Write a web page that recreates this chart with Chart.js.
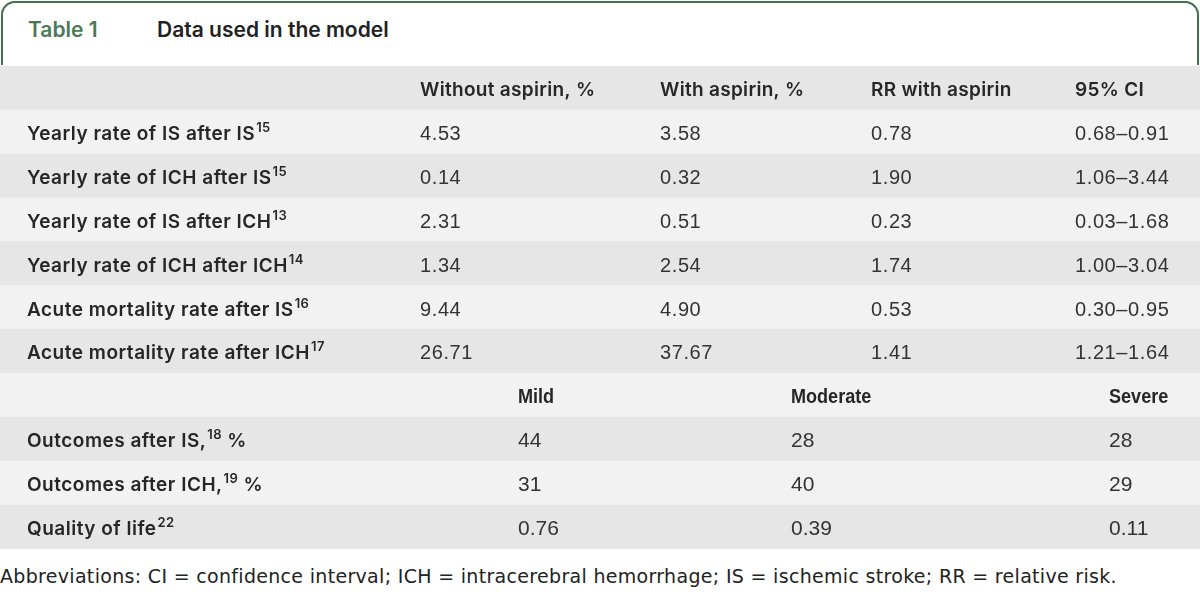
<!DOCTYPE html>
<html>
<head>
<meta charset="utf-8">
<script src="https://cdn.jsdelivr.net/npm/chart.js@4.4.1/dist/chart.umd.min.js"></script>
<style>
  html, body { margin: 0; padding: 0; background: #fff; }
  body { width: 1200px; height: 592px; position: relative; overflow: hidden; }
  .caption {
    position: absolute; left: 1px; top: 1px; width: 1198px; height: 64px;
    border: 2px solid #426f4c; border-bottom: none; border-radius: 14px 14px 0 0;
    box-sizing: border-box;
  }
  .caption span { position: absolute; top: 16px; font: 600 21px/21px Inter, sans-serif; white-space: nowrap; }
  .caption .num { left: 25px; color: #4a7a57; }
  .caption .ttl { left: 154px; color: #222; }
  #wrap { position: absolute; left: 0; top: 66px; width: 1200px; height: 483px; }
  .note { position: absolute; left: 0; top: 567px; font: 19px/19px "DejaVu Sans", sans-serif; color: #222; white-space: nowrap; }
</style>
</head>
<body>
<div class="caption"><span class="num">Table 1</span><span class="ttl">Data used in the model</span></div>
<div id="wrap"><canvas id="table"></canvas></div>
<div class="note" id="note">Abbreviations: CI = confidence interval; ICH = intracerebral hemorrhage; IS = ischemic stroke; RR = relative risk.</div>
<script>
// table data
const colHeaders = ["Without aspirin, %", "With aspirin, %", "RR with aspirin", "95% CI"];
const rowLabels = ["Yearly rate of IS after IS", "Yearly rate of ICH after IS", "Yearly rate of IS after ICH",
  "Yearly rate of ICH after ICH", "Acute mortality rate after IS", "Acute mortality rate after ICH"];
const rowRefs = ["15", "15", "13", "14", "16", "17"];
const withoutAspirin = [4.53, 0.14, 2.31, 1.34, 9.44, 26.71];
const withAspirin = [3.58, 0.32, 0.51, 2.54, 4.90, 37.67];
const rrAspirin = [0.78, 1.90, 0.23, 1.74, 0.53, 1.41];
const ciLow = [0.68, 1.06, 0.03, 1.00, 0.30, 1.21];
const ciHigh = [0.91, 3.44, 1.68, 3.04, 0.95, 1.64];

const severityLabels = ["Mild", "Moderate", "Severe"];
const outcomeLabels = ["Outcomes after IS,", "Outcomes after ICH,", "Quality of life"];
const outcomeRefs = ["18", "19", "22"];
const outcomeSuffix = [" %", " %", ""];
const mild = [44, 31, 0.76];
const moderate = [28, 40, 0.39];
const severe = [28, 29, 0.11];

// row keys for the y category axis
const rowKeys = ["head"]
  .concat(rowLabels.map((_, i) => "r" + i))
  .concat(["sev"])
  .concat(outcomeLabels.map((_, i) => "o" + i));

const X_MAX = 1200;
const colX = [420, 660, 871, 1075];
const sevX = [518, 791, 1109];
const labelX = 27;

const LABEL_FONT = "600 19px Inter, sans-serif";
const SUP_FONT = "600 13px Inter, sans-serif";
const VALUE_FONT = "20px 'Liberation Sans', Arial, sans-serif";
const SEV_FONT = "bold 21px 'Liberation Sans', Arial, sans-serif";
const OUT_FONT = "21px 'Liberation Sans', Arial, sans-serif";

const fmt2 = v => v.toFixed(2);
const fmtOut = v => Number.isInteger(v) ? String(v) : v.toFixed(2);

function labelWithRef(ctx, x, y, text, ref, suffix) {
  ctx.font = LABEL_FONT;
  ctx.letterSpacing = "0.5px";
  ctx.fillText(text, x, y);
  let w = ctx.measureText(text).width;
  ctx.font = SUP_FONT;
  ctx.letterSpacing = "0.4px";
  ctx.fillText(ref, x + w + 1, y - 8);
  w += ctx.measureText(ref).width + 1;
  if (suffix) {
    ctx.font = LABEL_FONT;
    ctx.letterSpacing = "0.5px";
    ctx.fillText(suffix, x + w, y);
  }
}

const cellText = {
  id: "cellText",
  afterDatasetsDraw(chart) {
    const ctx = chart.ctx;
    const xs = chart.scales.x;
    const ys = chart.scales.y;
    const rowY = i => ys.getPixelForValue(i) + 8;
    ctx.save();
    ctx.textBaseline = "alphabetic";
    ctx.textAlign = "left";

    // header
    ctx.fillStyle = "#262626";
    ctx.font = LABEL_FONT;
    ctx.letterSpacing = "0.3px";
    colHeaders.forEach((h, c) => ctx.fillText(h, xs.getPixelForValue(colX[c]), rowY(0)));

    // first block
    rowLabels.forEach((lab, i) => {
      const y = rowY(1 + i);
      ctx.fillStyle = "#262626";
      labelWithRef(ctx, xs.getPixelForValue(labelX), y, lab, rowRefs[i], "");
      ctx.fillStyle = "#333";
      ctx.font = VALUE_FONT;
      ctx.letterSpacing = "0.6px";
      ctx.fillText(fmt2(withoutAspirin[i]), xs.getPixelForValue(colX[0]), y);
      ctx.fillText(fmt2(withAspirin[i]), xs.getPixelForValue(colX[1]), y);
      ctx.fillText(fmt2(rrAspirin[i]), xs.getPixelForValue(colX[2]), y);
      ctx.fillText(fmt2(ciLow[i]) + "\u2013" + fmt2(ciHigh[i]), xs.getPixelForValue(colX[3]), y);
    });

    // severity header, condensed
    const sevRow = 1 + rowLabels.length;
    ctx.fillStyle = "#262626";
    ctx.font = SEV_FONT;
    ctx.letterSpacing = "0px";
    severityLabels.forEach((s, c) => {
      ctx.save();
      ctx.translate(xs.getPixelForValue(sevX[c]), rowY(sevRow));
      ctx.scale(0.86, 1);
      ctx.fillText(s, 0, 0);
      ctx.restore();
    });

    // outcomes block
    outcomeLabels.forEach((lab, i) => {
      const y = rowY(sevRow + 1 + i);
      ctx.fillStyle = "#262626";
      labelWithRef(ctx, xs.getPixelForValue(labelX), y, lab, outcomeRefs[i], outcomeSuffix[i]);
      ctx.fillStyle = "#333";
      ctx.font = OUT_FONT;
      ctx.letterSpacing = "0px";
      ctx.fillText(fmtOut(mild[i]), xs.getPixelForValue(sevX[0]), y);
      ctx.fillText(fmtOut(moderate[i]), xs.getPixelForValue(sevX[1]), y);
      ctx.fillText(fmtOut(severe[i]), xs.getPixelForValue(sevX[2]), y);
    });
    ctx.restore();
  }
};

new Chart(document.getElementById("table"), {
  type: "bar",
  data: {
    labels: rowKeys,
    datasets: [{
      data: rowKeys.map(() => [0, X_MAX]),
      backgroundColor: rowKeys.map((_, i) => i % 2 === 0 ? "#e6e6e6" : "#f2f2f2"),
      borderWidth: 0,
      barPercentage: 1,
      categoryPercentage: 1
    }]
  },
  options: {
    indexAxis: "y",
    responsive: true,
    maintainAspectRatio: false,
    animation: false,
    layout: { padding: 0 },
    plugins: { legend: { display: false }, tooltip: { enabled: false } },
    scales: {
      x: { type: "linear", min: 0, max: X_MAX, display: false },
      y: { type: "category", display: false }
    }
  },
  plugins: [cellText]
});

// stretch the footnote to the width it has in the source
const note = document.getElementById("note");
const extra = 1117 - note.getBoundingClientRect().width;
note.style.letterSpacing = (extra / note.textContent.length).toFixed(3) + "px";
</script>
</body>
</html>
